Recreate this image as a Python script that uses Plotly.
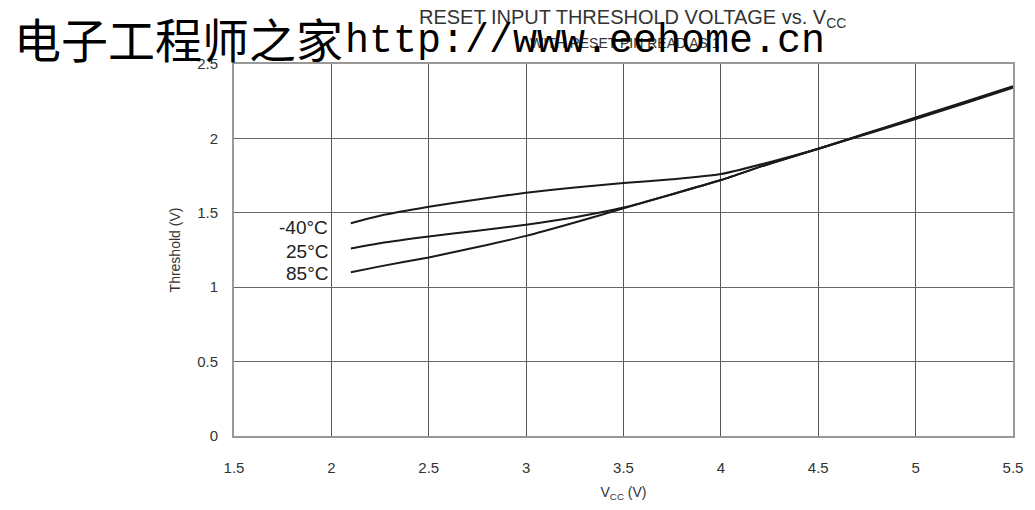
import plotly.graph_objects as go

vcc = [2.1, 2.25, 2.5, 2.75, 3.0, 3.25, 3.5, 3.75, 4.0, 4.25, 4.5, 4.75, 5.0, 5.25, 5.5]
th_m40 = [1.43, 1.48, 1.54, 1.59, 1.635, 1.67, 1.70, 1.725, 1.76, 1.84, 1.93, 2.035, 2.14, 2.245, 2.35]
th_25 = [1.26, 1.295, 1.34, 1.38, 1.42, 1.47, 1.535, 1.625, 1.72, 1.83, 1.93, 2.035, 2.135, 2.24, 2.345]
th_85 = [1.10, 1.14, 1.20, 1.27, 1.345, 1.435, 1.53, 1.625, 1.72, 1.83, 1.93, 2.03, 2.13, 2.235, 2.34]
series = [("-40°C", th_m40), ("25°C", th_25), ("85°C", th_85)]
x_ticks = [1.5, 2, 2.5, 3, 3.5, 4, 4.5, 5, 5.5]
y_ticks = [0, 0.5, 1, 1.5, 2, 2.5]

W, H = 1027, 502
L, R, T, B = 226, 21, 56, 72
PW = W - L - R
label_shifts = [-4, -2.5, -1.5]


def px(X):
    # screenshot pixel (page has 8px body offset) -> paper x
    return (X - 8 - L) / PW


def ys(Y):
    # screenshot pixel y -> shift from plot top
    return (T + 8) - Y


fig = go.Figure()
for (name, yv), sh in zip(series, label_shifts):
    fig.add_trace(go.Scatter(x=vcc, y=yv, mode="lines", name=name,
                             line=dict(color="#1a1a1a", width=2, shape="spline", smoothing=0.6),
                             showlegend=False))
    fig.add_annotation(x=2.0, y=yv[0], text=name, showarrow=False, xanchor="right",
                       xshift=-1, yshift=sh,
                       font=dict(family="Liberation Sans, Arial", size=19, color="#222"))

fig.update_layout(
    width=W, height=H,
    margin=dict(l=L, r=R, t=T, b=B),
    paper_bgcolor="white", plot_bgcolor="white",
    font=dict(family="Liberation Sans, Arial", color="#333"),
)
fig.update_xaxes(range=[1.5, 5.5], tickvals=x_ticks, ticktext=[f"{v:g}" for v in x_ticks],
                 showgrid=True, gridcolor="#555", gridwidth=1,
                 showline=True, linecolor="#999", linewidth=2, mirror=True,
                 ticks="", ticklabelstandoff=17, tickfont=dict(size=15, color="#333"),
                 zeroline=False,
                 title=dict(text="V<sub>CC</sub> (V)", font=dict(size=14, color="#333"), standoff=12))
fig.update_yaxes(range=[0, 2.5], tickvals=y_ticks, ticktext=[f"{v:g}" for v in y_ticks],
                 showgrid=True, gridcolor="#666", gridwidth=1,
                 showline=True, linecolor="#999", linewidth=2, mirror=True,
                 ticks="", ticklabelstandoff=11, tickfont=dict(size=15, color="#333"),
                 zeroline=False,
                 title=dict(text="Threshold (V)", font=dict(size=14, color="#333"), standoff=13))

# Title and subtitle
fig.add_annotation(xref="paper", yref="paper", x=px(633), y=1, yshift=ys(18), yanchor="middle",
                   text="RESET INPUT THRESHOLD VOLTAGE vs. V<sub>CC</sub>", showarrow=False,
                   font=dict(family="Liberation Sans, Arial", size=20, color="#333"))
fig.add_annotation(xref="paper", yref="paper", x=px(626), y=1, yshift=ys(43), yanchor="middle",
                   text="WITH RESET PIN READ AS 1", showarrow=False,
                   font=dict(family="Liberation Sans, Arial", size=14, color="#333"))

# Watermark
fig.add_annotation(xref="paper", yref="paper", x=px(12), xanchor="left", y=1, yshift=ys(37),
                   yanchor="middle", text="电子工程师之家", showarrow=False,
                   font=dict(family="Noto Sans CJK SC", size=47, color="black"))
fig.add_annotation(xref="paper", yref="paper", x=px(343), xanchor="left", y=1, yshift=ys(41),
                   yanchor="middle", text="http://www.eehome.cn", showarrow=False,
                   font=dict(family="Liberation Mono", size=40, color="black"))

fig.write_html("out.html")
